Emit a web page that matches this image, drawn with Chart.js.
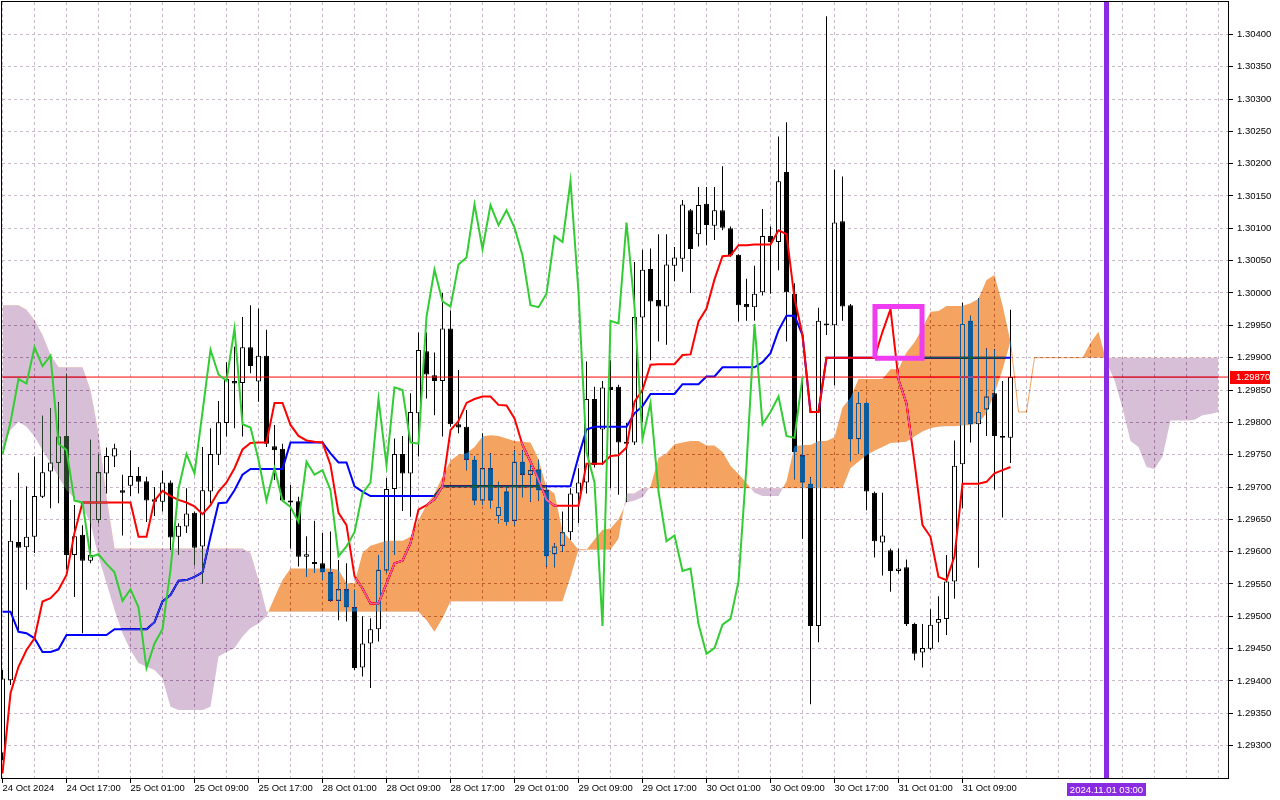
<!DOCTYPE html>
<html>
<head>
<meta charset="utf-8">
<script src="https://cdn.jsdelivr.net/npm/chart.js@4.4.1/dist/chart.umd.min.js"></script>
<style>
  html, body { margin: 0; padding: 0; background: #fff; }
  #wrap { width: 1280px; height: 800px; }
</style>
</head>
<body>
<div id="wrap"><canvas id="chart" width="1280" height="800"></canvas></div>
<script>
// GBPUSD-like H1 candles, 24 Oct 09:00 .. 31 Oct 15:00 (bar index 0..126)
const opens = [
  1.29288,1.29401,1.29615,1.29607,1.29623,1.29685,1.29724,1.29737,1.29779,1.29595,
  1.29626,1.29586,1.29649,1.29721,1.29747,1.29695,1.29702,1.29717,1.29709,1.29681,
  1.29677,1.29707,1.29623,1.29639,1.29660,1.29608,1.29693,1.29750,1.29799,1.29864,
  1.29861,1.29916,1.29863,1.29903,1.29763,1.29759,1.29679,1.29678,1.29592,1.29584,
  1.29582,1.29568,1.29524,1.29542,1.29514,1.29421,1.29458,1.29480,1.29571,1.29697,
  1.29751,1.29721,1.29814,1.29910,1.29873,1.29864,1.29945,1.29797,1.29793,1.29742,
  1.29679,1.29729,1.29655,1.29693,1.29648,1.29739,1.29719,1.29727,1.29695,1.29596,
  1.29609,1.29630,1.29690,1.29707,1.29836,1.29789,1.29855,1.29855,1.29770,1.29769,
  1.29962,1.30037,1.29989,1.29979,1.30042,1.30053,1.30128,1.30091,1.30138,1.30104,
  1.30128,1.30100,1.30059,1.29983,1.29978,1.30001,1.30088,1.30079,1.30187,1.29999,
  1.29749,1.29705,1.29485,1.29950,1.29950,1.30111,1.29981,1.29774,1.29830,1.29691,
  1.29614,1.29602,1.29570,1.29576,1.29488,1.29444,1.29450,1.29490,1.29496,1.29554,
  1.29735,1.29957,1.29797,1.29820,1.29845,1.29779,1.29776
];
const highs = [
  1.29417,1.29680,1.29722,1.29701,1.29747,1.29810,1.29822,1.29831,1.29875,1.29672,
  1.29641,1.29773,1.29751,1.29761,1.29767,1.29719,1.29757,1.29731,1.29716,1.29700,
  1.29725,1.29710,1.29644,1.29698,1.29662,1.29762,1.29791,1.29833,1.29893,1.29917,
  1.29963,1.29981,1.29976,1.29943,1.29796,1.29767,1.29703,1.29685,1.29624,1.29648,
  1.29629,1.29631,1.29587,1.29582,1.29541,1.29500,1.29497,1.29595,1.29714,1.29775,
  1.29779,1.29845,1.29939,1.29939,1.29908,1.30000,1.29973,1.29881,1.29819,1.29748,
  1.29783,1.29752,1.29708,1.29701,1.29757,1.29757,1.29734,1.29742,1.29703,1.29613,
  1.29662,1.29698,1.29729,1.29894,1.29855,1.29864,1.29896,1.29858,1.29799,1.30048,
  1.30067,1.30069,1.30091,1.30091,1.30071,1.30144,1.30130,1.30164,1.30164,1.30164,
  1.30196,1.30103,1.30060,1.30022,1.30042,1.30130,1.30103,1.30242,1.30264,1.30015,
  1.29864,1.29715,1.29977,1.30428,1.30191,1.30180,1.29983,1.29847,1.29832,1.29693,
  1.29691,1.29605,1.29605,1.29588,1.29490,1.29488,1.29511,1.29531,1.29595,1.29772,
  1.29985,1.29965,1.29992,1.29914,1.29913,1.29864,1.29974
];
const lows = [
  1.29278,1.29394,1.29479,1.29541,1.29598,1.29683,1.29667,1.29675,1.29572,1.29530,
  1.29474,1.29582,1.29644,1.29690,1.29731,1.29625,1.29686,1.29690,1.29646,1.29655,
  1.29662,1.29603,1.29595,1.29629,1.29579,1.29551,1.29675,1.29734,1.29778,1.29791,
  1.29778,1.29876,1.29832,1.29762,1.29711,1.29677,1.29605,1.29577,1.29561,1.29567,
  1.29556,1.29523,1.29494,1.29492,1.29417,1.29407,1.29389,1.29461,1.29567,1.29595,
  1.29663,1.29654,1.29747,1.29837,1.29811,1.29778,1.29793,1.29783,1.29726,1.29672,
  1.29672,1.29667,1.29644,1.29641,1.29641,1.29684,1.29677,1.29679,1.29577,1.29576,
  1.29600,1.29618,1.29644,1.29690,1.29730,1.29734,1.29698,1.29688,1.29677,1.29765,
  1.29800,1.29896,1.29925,1.29920,1.30018,1.30033,1.30000,1.30072,1.30074,1.30082,
  1.30097,1.30056,1.29956,1.29957,1.29957,1.29996,1.29999,1.30035,1.29925,1.29712,
  1.29620,1.29364,1.29460,1.29935,1.29857,1.29957,1.29740,1.29751,1.29664,1.29591,
  1.29563,1.29538,1.29566,1.29485,1.29432,1.29421,1.29448,1.29460,1.29471,1.29527,
  1.29667,1.29769,1.29575,1.29779,1.29696,1.29653,1.29737
];
const closes = [
  1.29404,1.29617,1.29606,1.29623,1.29686,1.29723,1.29738,1.29778,1.29595,1.29624,
  1.29586,1.29595,1.29723,1.29748,1.29760,1.29691,1.29717,1.29708,1.29679,1.29677,
  1.29707,1.29622,1.29640,1.29659,1.29606,1.29695,1.29751,1.29800,1.29867,1.29860,
  1.29916,1.29887,1.29903,1.29767,1.29757,1.29679,1.29676,1.29592,1.29596,1.29581,
  1.29568,1.29524,1.29542,1.29514,1.29420,1.29458,1.29480,1.29572,1.29697,1.29751,
  1.29721,1.29816,1.29912,1.29874,1.29864,1.29945,1.29797,1.29792,1.29742,1.29679,
  1.29729,1.29679,1.29669,1.29646,1.29739,1.29719,1.29726,1.29695,1.29593,1.29608,
  1.29630,1.29690,1.29707,1.29836,1.29734,1.29854,1.29850,1.29769,1.29767,1.29963,
  1.30036,1.29987,1.29979,1.30044,1.30055,1.30137,1.30068,1.30136,1.30105,1.30128,
  1.30101,1.30058,1.29981,1.29978,1.29999,1.30088,1.30079,1.30173,1.30001,1.29754,
  1.29707,1.29485,1.29957,1.29953,1.30109,1.29979,1.29774,1.29830,1.29693,1.29616,
  1.29625,1.29570,1.29574,1.29488,1.29442,1.29451,1.29487,1.29496,1.29554,1.29733,
  1.29952,1.29797,1.29816,1.29840,1.29779,1.29776,1.29870
];

// Ichimoku lines
const tenkan = [
  1.29257,1.29381,1.29422,1.29448,1.29466,1.29523,1.29528,1.29541,1.29564,1.29629,
  1.29676,1.29676,1.29676,1.29676,1.29676,1.29676,1.29676,1.29623,1.29623,1.29679,
  1.29694,1.29686,1.29680,1.29676,1.29670,1.29658,1.29672,1.29693,1.29707,1.29729,
  1.29758,1.29768,1.29769,1.29769,1.29830,1.29830,1.29796,1.29779,1.29772,1.29770,
  1.29769,1.29734,1.29660,1.29641,1.29562,1.29543,1.29520,1.29520,1.29551,1.29582,
  1.29586,1.29613,1.29665,1.29672,1.29681,1.29701,1.29788,1.29802,1.29830,1.29836,
  1.29840,1.29840,1.29827,1.29826,1.29806,1.29765,1.29739,1.29711,1.29680,1.29671,
  1.29671,1.29671,1.29671,1.29736,1.29736,1.29736,1.29748,1.29749,1.29761,1.29832,
  1.29850,1.29889,1.29890,1.29890,1.29890,1.29904,1.29905,1.29956,1.29976,1.30021,
  1.30057,1.30058,1.30074,1.30074,1.30075,1.30075,1.30075,1.30097,1.30091,1.29992,
  1.29935,1.29816,1.29816,1.29900,1.29900,1.29900,1.29900,1.29900,1.29900,1.29900,
  1.29940,1.29975,1.29866,1.29829,1.29738,1.29641,1.29623,1.29561,1.29556,1.29593,
  1.29705,1.29705,1.29705,1.29708,1.29721,1.29726,1.29731
];
const kijun = [
  1.29507,1.29507,1.29476,1.29474,1.29466,1.29445,1.29445,1.29449,1.29471,1.29471,
  1.29471,1.29471,1.29471,1.29471,1.29480,1.29480,1.29480,1.29480,1.29480,1.29491,
  1.29523,1.29533,1.29555,1.29556,1.29561,1.29568,1.29623,1.29675,1.29676,1.29695,
  1.29719,1.29728,1.29728,1.29728,1.29728,1.29728,1.29769,1.29769,1.29769,1.29769,
  1.29769,1.29752,1.29738,1.29738,1.29701,1.29693,1.29686,1.29686,1.29686,1.29686,
  1.29686,1.29686,1.29686,1.29686,1.29686,1.29701,1.29701,1.29701,1.29701,1.29701,
  1.29701,1.29701,1.29701,1.29701,1.29701,1.29701,1.29701,1.29701,1.29701,1.29701,
  1.29701,1.29701,1.29747,1.29789,1.29793,1.29793,1.29793,1.29793,1.29793,1.29814,
  1.29825,1.29844,1.29844,1.29844,1.29844,1.29859,1.29859,1.29859,1.29871,1.29871,
  1.29885,1.29885,1.29885,1.29885,1.29885,1.29893,1.29907,1.29942,1.29965,1.29965,
  1.29935,1.29816,1.29816,1.29900,1.29900,1.29900,1.29900,1.29900,1.29900,1.29900,
  1.29900,1.29900,1.29900,1.29900,1.29900,1.29900,1.29900,1.29900,1.29900,1.29900,
  1.29900,1.29900,1.29900,1.29900,1.29900,1.29900,1.29900
];
// lagging span, plotted from bar 0 to bar 100
const chikou = [
  1.29751,1.29800,1.29867,1.29860,1.29916,1.29887,1.29903,1.29767,1.29757,1.29679,
  1.29676,1.29592,1.29596,1.29581,1.29568,1.29524,1.29542,1.29514,1.29420,1.29458,
  1.29480,1.29572,1.29697,1.29751,1.29721,1.29816,1.29912,1.29874,1.29864,1.29945,
  1.29797,1.29792,1.29742,1.29679,1.29729,1.29679,1.29669,1.29646,1.29739,1.29719,
  1.29726,1.29695,1.29593,1.29608,1.29630,1.29690,1.29707,1.29836,1.29734,1.29854,
  1.29850,1.29769,1.29767,1.29963,1.30036,1.29987,1.29979,1.30044,1.30055,1.30137,
  1.30068,1.30136,1.30105,1.30128,1.30101,1.30058,1.29981,1.29978,1.29999,1.30088,
  1.30079,1.30173,1.30001,1.29754,1.29707,1.29485,1.29957,1.29953,1.30109,1.29979,
  1.29774,1.29830,1.29693,1.29616,1.29625,1.29570,1.29574,1.29488,1.29442,1.29451,
  1.29487,1.29496,1.29554,1.29733,1.29952,1.29797,1.29816,1.29840,1.29779,1.29776,
  1.29870
];
// leading spans, bar 0 to bar 152 (26 bars into the future)
const spanA = [
  1.29757,1.29788,1.29801,1.29793,1.29778,1.29757,1.29737,1.29716,1.29695,1.29683,
  1.29670,1.29644,1.29592,1.29551,1.29510,1.29474,1.29448,1.29428,1.29422,1.29417,
  1.29404,1.29360,1.29355,1.29355,1.29355,1.29355,1.29360,1.29438,1.29445,1.29451,
  1.29469,1.29482,1.29489,1.29500,1.29529,1.29556,1.29574,1.29574,1.29574,1.29574,
  1.29574,1.29574,1.29572,1.29551,1.29551,1.29598,1.29609,1.29613,1.29617,1.29617,
  1.29617,1.29623,1.29649,1.29672,1.29690,1.29716,1.29741,1.29750,1.29752,1.29762,
  1.29778,1.29780,1.29779,1.29775,1.29771,1.29770,1.29769,1.29743,1.29699,1.29690,
  1.29632,1.29618,1.29603,1.29603,1.29619,1.29634,1.29636,1.29650,1.29676,1.29679,
  1.29684,1.29701,1.29745,1.29752,1.29766,1.29769,1.29771,1.29771,1.29764,1.29764,
  1.29754,1.29733,1.29720,1.29706,1.29691,1.29686,1.29686,1.29686,1.29709,1.29763,
  1.29765,1.29765,1.29771,1.29771,1.29777,1.29823,1.29838,1.29867,1.29867,1.29867,
  1.29867,1.29882,1.29882,1.29908,1.29924,1.29946,1.29971,1.29972,1.29980,1.29980,
  1.29980,1.29984,1.29991,1.30020,1.30028,1.29981,1.29925,1.29816,1.29816,1.29900,
  1.29900,1.29900,1.29900,1.29900,1.29900,1.29900,1.29923,1.29940,1.29893,1.29865,
  1.29822,1.29771,1.29762,1.29731,1.29728,1.29747,1.29803,1.29803,1.29803,1.29804,
  1.29811,1.29813,1.29816
];
const spanB = [
  1.29981,1.29981,1.29981,1.29974,1.29958,1.29935,1.29904,1.29885,1.29885,1.29885,
  1.29885,1.29850,1.29783,1.29685,1.29605,1.29605,1.29605,1.29605,1.29605,1.29605,
  1.29605,1.29605,1.29605,1.29605,1.29605,1.29605,1.29605,1.29605,1.29605,1.29605,
  1.29605,1.29598,1.29556,1.29507,1.29507,1.29507,1.29507,1.29507,1.29507,1.29507,
  1.29507,1.29507,1.29507,1.29507,1.29507,1.29507,1.29507,1.29507,1.29507,1.29507,
  1.29507,1.29507,1.29507,1.29494,1.29476,1.29497,1.29523,1.29523,1.29523,1.29523,
  1.29523,1.29523,1.29523,1.29523,1.29523,1.29523,1.29523,1.29523,1.29523,1.29523,
  1.29523,1.29561,1.29603,1.29603,1.29603,1.29603,1.29603,1.29620,1.29690,1.29690,
  1.29698,1.29698,1.29698,1.29698,1.29698,1.29698,1.29698,1.29698,1.29698,1.29698,
  1.29698,1.29698,1.29698,1.29698,1.29698,1.29698,1.29698,1.29698,1.29698,1.29698,
  1.29698,1.29698,1.29698,1.29698,1.29698,1.29698,1.29729,1.29739,1.29749,1.29756,
  1.29762,1.29768,1.29769,1.29770,1.29778,1.29786,1.29791,1.29793,1.29794,1.29794,
  1.29795,1.29796,1.29799,1.29814,1.29845,1.29881,1.29925,1.29816,1.29816,1.29900,
  1.29900,1.29900,1.29900,1.29900,1.29900,1.29900,1.29900,1.29900,1.29900,1.29900,
  1.29900,1.29900,1.29900,1.29900,1.29900,1.29900,1.29900,1.29900,1.29900,1.29900,
  1.29900,1.29900,1.29900
];

const timeLabels = ['24 Oct 2024','24 Oct 17:00','25 Oct 01:00','25 Oct 09:00','25 Oct 17:00',
  '28 Oct 01:00','28 Oct 09:00','28 Oct 17:00','29 Oct 01:00','29 Oct 09:00','29 Oct 17:00',
  '30 Oct 01:00','30 Oct 09:00','30 Oct 17:00','31 Oct 01:00','31 Oct 09:00'];
const timeLabelBars = [0,8,16,24,32,40,48,56,64,72,80,88,96,104,112,120];
const priceTicks = [1.29300,1.29350,1.29400,1.29450,1.29500,1.29550,1.29600,1.29650,1.29700,
  1.29750,1.29800,1.29850,1.29900,1.29950,1.30000,1.30050,1.30100,1.30150,1.30200,1.30250,
  1.30300,1.30350,1.30400];

const vlineBar = 138;
const vlineLabel = '2024.11.01 03:00';
const boxBars = [109.06, 114.94];
const boxPrices = [1.29899, 1.29979];

const yMin = 1.29250, yMax = 1.30450;
const xMin = -0.0625, xMax = 153.1875;
const lastPrice = closes[closes.length - 1];

// MT5 draws the cloud in XOR mode; "difference" over white/black behaves the same
const XOR_ORANGE = '#0b5b9f';   // white -> sandy brown, black -> blue
const XOR_THISTLE = '#274027';  // white -> thistle
const FONT = '"Liberation Sans", Arial, sans-serif';

function pts(arr) {
  return arr.map((v, i) => ({x: i, y: v}));
}
function labelFor(v) {
  const k = timeLabelBars.indexOf(v);
  return k >= 0 ? timeLabels[k] : '';
}
function noPad(s) {
  s.paddingTop = 0; s.paddingBottom = 0; s.paddingLeft = 0; s.paddingRight = 0;
}

const xorCloud = {
  id: 'xorCloud',
  beforeDraw(chart) {
    const c = chart.ctx;
    c.save();
    c.fillStyle = '#fff';
    c.fillRect(0, 0, chart.width, chart.height);
    c.restore();
  },
  afterDatasetDraw(chart, args) {
    // switch blending on right before the cloud datasets are drawn
    const metas = chart.getSortedVisibleDatasetMetas();
    const pos = metas.findIndex(m => m.index === args.index);
    const next = metas[pos - 1];
    const isCloud = next && chart.data.datasets[next.index].cloud;
    chart.ctx.globalCompositeOperation = isCloud ? 'difference' : 'source-over';
  },
  afterDatasetsDraw(chart) {
    chart.ctx.globalCompositeOperation = 'source-over';
  },
  afterDraw(chart) {
    const {ctx, chartArea: a, scales} = chart;
    ctx.save();
    ctx.globalCompositeOperation = 'source-over';
    ctx.strokeStyle = '#000';
    ctx.lineWidth = 1;
    ctx.strokeRect(a.left - 0.5, a.top - 0.5, a.right - a.left + 1, a.bottom - a.top + 1);

    ctx.font = '9.5px ' + FONT;
    ctx.textBaseline = 'middle';
    const py = scales.y.getPixelForValue(lastPrice);
    ctx.fillStyle = '#ff0000';
    ctx.fillRect(a.right + 2, Math.round(py) - 6, 40, 13);
    ctx.fillStyle = '#fff';
    ctx.textAlign = 'left';
    ctx.fillText(lastPrice.toFixed(5), a.right + 8, Math.round(py) + 0.5);

    const vx = scales.x.getPixelForValue(vlineBar);
    ctx.fillStyle = '#8a2be2';
    ctx.fillRect(Math.round(vx) - 40, a.bottom + 5, 79, 13);
    ctx.fillStyle = '#fff';
    ctx.textAlign = 'center';
    ctx.fillText(vlineLabel, vx, a.bottom + 12);
    ctx.restore();
  }
};

const datasets = [
  {
    type: 'bar', label: 'wick',
    data: lows.map((l, i) => ({x: i, y: [l, highs[i]]})),
    backgroundColor: '#000', borderWidth: 0,
    barThickness: 1, maxBarThickness: 1, grouped: false, inflateAmount: 0, order: 10
  },
  {
    type: 'bar', label: 'body',
    data: opens.map((o, i) => ({x: i, y: [o, closes[i]]})),
    backgroundColor: closes.map((c, i) => c >= opens[i] ? '#fff' : '#000'),
    borderColor: '#000', borderWidth: 1, borderSkipped: false,
    barThickness: 5, maxBarThickness: 5, grouped: false, inflateAmount: 0, order: 9
  },
  { type: 'line', label: 'Kijun-sen', data: pts(kijun), borderColor: '#0000ff', borderWidth: 2, pointRadius: 0, order: 7 },
  { type: 'line', label: 'Tenkan-sen', data: pts(tenkan), borderColor: '#ff0000', borderWidth: 2, pointRadius: 0, order: 6 },
  {
    type: 'line', label: 'price',
    data: [{x: xMin - 1, y: lastPrice}, {x: xMax + 1, y: lastPrice}],
    borderColor: '#ff0000', borderWidth: 1, pointRadius: 0, order: 5
  },
  {
    type: 'line', label: 'Senkou Span A', cloud: true, data: pts(spanA),
    borderWidth: 0, borderColor: 'rgba(0,0,0,0)', pointRadius: 0,
    fill: {target: '+1', above: XOR_ORANGE, below: XOR_THISTLE}, order: 3
  },
  {
    type: 'line', label: 'Senkou Span B', cloud: true, data: pts(spanB),
    borderWidth: 1, pointRadius: 0, fill: false, order: 4,
    segment: {
      borderColor: c => (spanA[c.p0DataIndex] === spanB[c.p0DataIndex] &&
                         spanA[c.p1DataIndex] === spanB[c.p1DataIndex]) ? XOR_ORANGE : 'rgba(0,0,0,0)'
    }
  },
  // the lagging span is plotted after the cloud, so it keeps its own colour
  { type: 'line', label: 'Chikou Span', data: pts(chikou), borderColor: '#32cd32', borderWidth: 2, pointRadius: 0, order: 2.5 },
  {
    type: 'line', label: 'now',
    data: [{x: vlineBar, y: yMin}, {x: vlineBar, y: yMax}],
    borderColor: '#8a2be2', borderWidth: 5, pointRadius: 0, order: 2
  },
  {
    type: 'line', label: 'box',
    data: [
      {x: boxBars[0], y: boxPrices[0]}, {x: boxBars[1], y: boxPrices[0]},
      {x: boxBars[1], y: boxPrices[1]}, {x: boxBars[0], y: boxPrices[1]},
      {x: boxBars[0], y: boxPrices[0]}
    ],
    borderColor: '#f03cf0', borderWidth: 5, borderJoinStyle: 'miter', pointRadius: 0, order: 1
  }
];

Chart.defaults.font.family = FONT;
Chart.defaults.color = '#000';

new Chart(document.getElementById('chart'), {
  type: 'bar',
  data: { datasets: datasets },
  plugins: [xorCloud],
  options: {
    responsive: false,
    animation: false,
    devicePixelRatio: 1,
    events: [],
    layout: { padding: { left: 2, top: 2, right: 0, bottom: 0 } },
    elements: { line: { tension: 0 } },
    plugins: {
      legend: { display: false },
      tooltip: { enabled: false },
      filler: { propagate: false }
    },
    scales: {
      x: {
        type: 'linear', min: xMin, max: xMax, offset: false,
        afterBuildTicks: s => {
          s.ticks = [];
          for (let v = 0; v < spanA.length; v += 4) s.ticks.push({value: v});
        },
        afterFit: s => { s.height = 22; noPad(s); },
        ticks: {
          autoSkip: false, maxRotation: 0, minRotation: 0, align: 'start', padding: 0,
          font: { size: 9.5 }, callback: v => labelFor(v)
        },
        grid: {
          color: '#c8b8c8', lineWidth: 1, tickLength: 5, offset: false,
          tickColor: c => (c.tick && labelFor(c.tick.value)) ? '#000' : 'rgba(0,0,0,0)'
        },
        border: { display: false, dash: [3, 3] }
      },
      y: {
        type: 'linear', position: 'right', min: yMin, max: yMax,
        afterBuildTicks: s => { s.ticks = priceTicks.map(v => ({value: v})); },
        afterFit: s => { s.width = 52; noPad(s); },
        ticks: { autoSkip: false, padding: 4, font: { size: 9.5 }, callback: v => v.toFixed(5) },
        grid: { color: '#c8b8c8', lineWidth: 1, tickLength: 5, tickColor: '#000' },
        border: { display: false, dash: [3, 3] }
      }
    }
  }
});
</script>
</body>
</html>
